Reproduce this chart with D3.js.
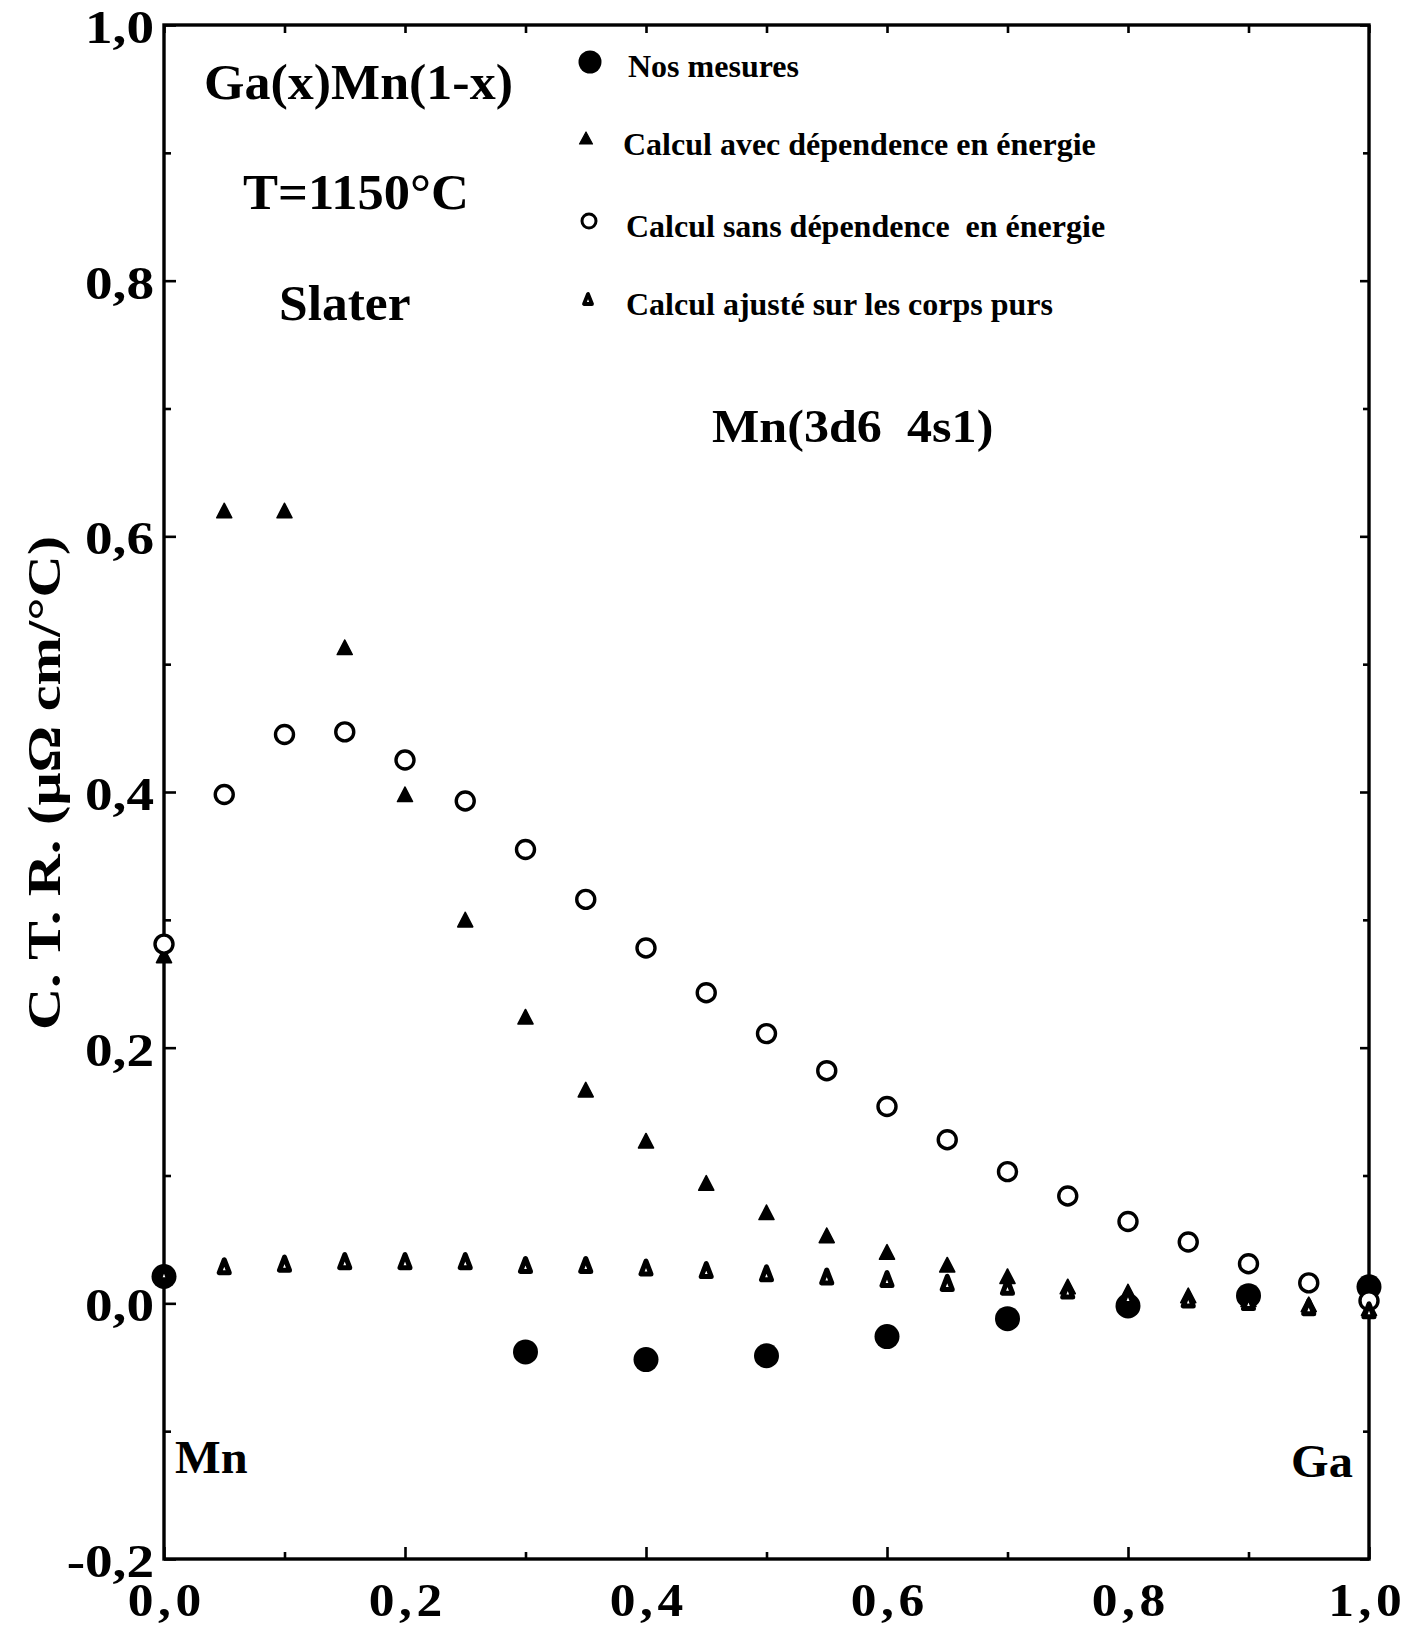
<!DOCTYPE html>
<html><head><meta charset="utf-8">
<script src="https://cdn.jsdelivr.net/npm/d3@7"></script>
<style>
body{margin:0;background:#fff}
svg{display:block}
text{font-family:"Liberation Serif","Times New Roman",serif;font-weight:bold;fill:#000;white-space:pre}
</style>
</head><body>
<svg id="chart" width="1409" height="1632"></svg>
<script>
// ---- data ----
const xCalc = [0,0.05,0.1,0.15,0.2,0.25,0.3,0.35,0.4,0.45,0.5,0.55,0.6,0.65,0.7,0.75,0.8,0.85,0.9,0.95,1.0];
const calcAvec = [0.272,0.620,0.620,0.513,0.398,0.300,0.224,0.167,0.127,0.094,0.071,0.053,0.040,0.030,0.021,0.013,0.009,0.006,0.003,-0.001,-0.004];
const calcSans = [0.281,0.398,0.445,0.447,0.425,0.393,0.355,0.316,0.278,0.243,0.211,0.182,0.154,0.128,0.103,0.084,0.064,0.048,0.031,0.016,0.002];
const calcAjuste = [0.0235,0.029,0.031,0.033,0.033,0.033,0.030,0.030,0.028,0.026,0.0235,0.021,0.019,0.016,0.013,0.010,0.005,0.003,0.001,-0.003,-0.0055];
const xMesures = [0,0.3,0.4,0.5,0.6,0.7,0.8,0.9,1.0];
const mesures = [0.021,-0.038,-0.044,-0.041,-0.026,-0.012,-0.002,0.006,0.013];

const xTickValues = [0,0.2,0.4,0.6,0.8,1.0];
const xTickLabels = ["0,0","0,2","0,4","0,6","0,8","1,0"];
const xMinorTicks = [0.1,0.3,0.5,0.7,0.9];
const xTopTicks = [0,0.1,0.2,0.3,0.4,0.5,0.6,0.7,0.8,0.9,1.0];
const yTickValues = [-0.2,0,0.2,0.4,0.6,0.8,1.0];
const yTickLabels = ["-0,2","0,0","0,2","0,4","0,6","0,8","1,0"];
const yMinorTicks = [-0.1,0.1,0.3,0.5,0.7,0.9];

const legendLabels = ["Nos mesures","Calcul avec dépendence en énergie","Calcul sans dépendence\u00a0 en énergie","Calcul ajusté sur les corps purs"];
const yAxisTitle = "C. T. R. (μΩ cm/°C)";

// ---- setup ----
const svg = d3.select("#chart");
const x = d3.scaleLinear().domain([0,1]).range([164,1369]);
const y = d3.scaleLinear().domain([-0.2,1.0]).range([1559,25]);

function stretchText(sel, sx){
  sel.each(function(){
    const t = d3.select(this);
    const tx = +t.attr("x") || 0;
    t.attr("x", tx/sx).attr("transform", `scale(${sx},1)`);
  });
}
function styleAxis(g){
  g.select(".domain").remove();
  g.selectAll(".tick line").attr("stroke","#000").attr("stroke-width",2.6);
}

// left axis majors with labels
const gl = svg.append("g").attr("transform",`translate(${x(0)},0)`)
  .call(d3.axisLeft(y).tickValues(yTickValues).tickFormat((d,i)=>yTickLabels[i]).tickSizeInner(-12).tickSizeOuter(0).tickPadding(10));
styleAxis(gl);
gl.selectAll("text").attr("font-family",null).attr("font-size",46).attr("dy","0.38em");
stretchText(gl.selectAll("text"),1.2);
// left minor
const glm = svg.append("g").attr("transform",`translate(${x(0)},0)`)
  .call(d3.axisLeft(y).tickValues(yMinorTicks).tickFormat("").tickSizeInner(-7).tickSizeOuter(0));
styleAxis(glm);
// right axis
const gr = svg.append("g").attr("transform",`translate(${x(1)},0)`)
  .call(d3.axisRight(y).tickValues(yTickValues).tickFormat("").tickSizeInner(-9).tickSizeOuter(0));
styleAxis(gr);
const grm = svg.append("g").attr("transform",`translate(${x(1)},0)`)
  .call(d3.axisRight(y).tickValues(yMinorTicks).tickFormat("").tickSizeInner(-6).tickSizeOuter(0));
styleAxis(grm);
// top axis
const gt = svg.append("g").attr("transform",`translate(0,${y(1)})`)
  .call(d3.axisTop(x).tickValues(xTopTicks).tickFormat("").tickSizeInner(-8).tickSizeOuter(0));
styleAxis(gt);
// bottom axis
const gb = svg.append("g").attr("transform",`translate(0,${y(-0.2)})`)
  .call(d3.axisBottom(x).tickValues(xTickValues).tickFormat((d,i)=>xTickLabels[i]).tickSizeInner(-12).tickSizeOuter(0).tickPadding(24));
styleAxis(gb);
gb.selectAll("text").attr("font-family",null).attr("font-size",46).attr("letter-spacing","4px").attr("dx","2px");
gb.selectAll(".tick").filter(d=>d===1).select("text").attr("dx","-2px");
stretchText(gb.selectAll("text"),1.12);
const gbm = svg.append("g").attr("transform",`translate(0,${y(-0.2)})`)
  .call(d3.axisBottom(x).tickValues(xMinorTicks).tickFormat("").tickSizeInner(-7).tickSizeOuter(0));
styleAxis(gbm);

// frame
svg.append("rect")
  .attr("x",x(0)).attr("y",y(1))
  .attr("width",x(1)-x(0)).attr("height",y(-0.2)-y(1))
  .attr("fill","none").attr("stroke","#000").attr("stroke-width",3.4);

// ---- text annotations ----
function label(txt, px, py, size, sx, anchor, rot){
  svg.append("text")
    .attr("transform",`translate(${px},${py})${rot?` rotate(${rot})`:""} scale(${sx},1)`)
    .attr("font-size",size).attr("text-anchor",anchor||"start")
    .text(txt);
}
label("Ga(x)Mn(1-x)",204,99,50,1.04,"start");
label("T=1150°C",243,209,50,1.05,"start");
label("Slater",279,320,50,1.03,"start");
label("Mn(3d6\u00a0 4s1)",712,442,46,1.09,"start");
label("Mn",175,1473,47,1.03,"start");
label("Ga",1291,1477,47,1.03,"start");
label(yAxisTitle,60,783,47,1.24,"middle",-90);

// ---- marker shapes ----
const triFilled = "M0,-7.5L-7.5,7L7.5,7Z";
const triSmall = "M0,-6.5L-5,6.5L5,6.5Z";

const dataMes = xMesures.map((d,i)=>({x:d,v:mesures[i]}));
const dataAvec = xCalc.map((d,i)=>({x:d,v:calcAvec[i]}));
const dataSans = xCalc.map((d,i)=>({x:d,v:calcSans[i]}));
const dataAj = xCalc.map((d,i)=>({x:d,v:calcAjuste[i]}));

svg.append("g").selectAll("circle").data(dataMes).join("circle")
  .attr("cx",d=>x(d.x)).attr("cy",d=>y(d.v)).attr("r",12.5).attr("fill","#000");
svg.append("g").selectAll("path").data(dataAvec).join("path")
  .attr("d",triFilled).attr("transform",d=>`translate(${x(d.x)},${y(d.v)})`)
  .attr("fill","#000").attr("stroke","#000").attr("stroke-width",1.6).attr("stroke-linejoin","round");
svg.append("g").selectAll("circle").data(dataSans).join("circle")
  .attr("cx",d=>x(d.x)).attr("cy",d=>y(d.v)).attr("r",9)
  .attr("fill","#fff").attr("stroke","#000").attr("stroke-width",3.4);
svg.append("g").selectAll("path").data(dataAj).join("path")
  .attr("d",triSmall).attr("transform",d=>`translate(${x(d.x)},${y(d.v)})`)
  .attr("fill","#fff").attr("stroke","#000").attr("stroke-width",5).attr("stroke-linejoin","round");

// ---- legend ----
const legendY = [77,155,237,315];
const legendTextX = [628,623,626,626];
const lg = svg.append("g");
lg.append("circle").attr("cx",590).attr("cy",legendY[0]-15).attr("r",11.5).attr("fill","#000");
lg.append("path").attr("d","M0,-6L-6.5,6L6.5,6Z").attr("transform",`translate(586,${legendY[1]-17})`)
  .attr("fill","#000").attr("stroke","#000").attr("stroke-width",1.2).attr("stroke-linejoin","round");
lg.append("circle").attr("cx",589).attr("cy",legendY[2]-16).attr("r",7)
  .attr("fill","#fff").attr("stroke","#000").attr("stroke-width",3);
lg.append("path").attr("d","M0,-5L-4,5L4,5Z").attr("transform",`translate(588,${legendY[3]-16})`)
  .attr("fill","#fff").attr("stroke","#000").attr("stroke-width",3.8).attr("stroke-linejoin","round");
legendLabels.forEach((t,i)=>{
  lg.append("text").attr("x",legendTextX[i]).attr("y",legendY[i]).attr("font-size",32).text(t);
});
</script>
</body></html>
